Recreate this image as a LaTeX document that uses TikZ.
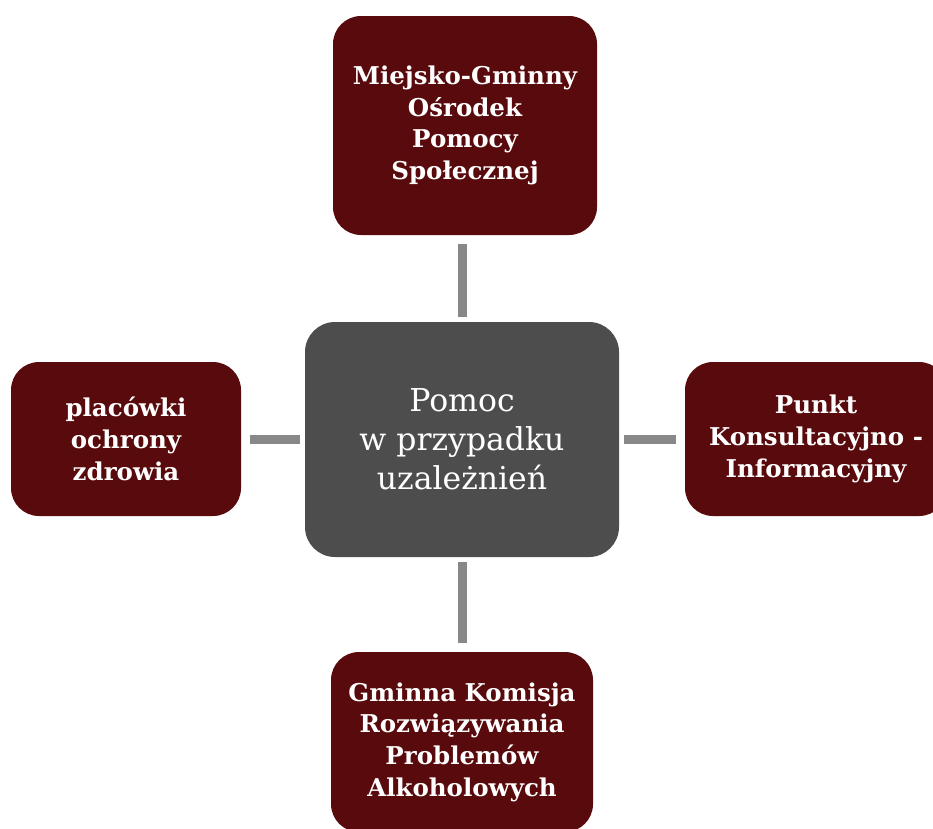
\documentclass[tikz,border=0pt]{standalone}
\usepackage{fontspec}
\setmainfont{DejaVu Serif}
\usepackage{tikz}
\usetikzlibrary{calc}
\definecolor{box-red}{RGB}{89,10,12}
\definecolor{box-grey}{RGB}{77,77,77}
\definecolor{link-grey}{RGB}{136,136,136}
\tikzset{
    side/.style = {
        fill=box-red, text=white, rounded corners=28pt, align=center,
        inner sep=0pt, font=\fontsize{24.5}{31.7}\selectfont\bfseries
    },
    hub/.style = {
        fill=box-grey, text=white, rounded corners=30pt, align=center,
        inner sep=0pt, minimum width=314pt, minimum height=235pt,
        font=\fontsize{31.5}{39}\selectfont
    },
    link/.style = {
        draw=link-grey, line width=9pt, shorten <=4.5pt, shorten >=9pt
    },
}

\begin{document}
\begin{tikzpicture}[x=1pt,y=-1pt]
\useasboundingbox (0,0) rectangle (933,828);
\clip (0,0) rectangle (933,828);

\node(centre)[hub] at (462,439.5) {Pomoc\\w przypadku\\uzależnień};

\node(mgops)[side, minimum width=264pt, minimum height=219pt] at (465,125.5)
    {Miejsko-Gminny\\Ośrodek\\Pomocy\\Społecznej};
\node(zdrowie)[side, minimum width=230pt, minimum height=154pt] at (126,439)
    {placówki\\ochrony\\zdrowia};
\node(punkt)[side, minimum width=262pt, minimum height=154pt] at (816,439)
    {Punkt\\Konsultacyjno -\\Informacyjny};
\node(gkrpa)[side, minimum width=262pt, minimum height=180pt] at (462,742)
    {Gminna Komisja\\Rozwiązywania\\Problemów\\Alkoholowych};

\draw[link] (centre.north) -- (centre.north |- mgops.south);
\draw[link] (centre.west) -- (centre.west -| zdrowie.east);
\draw[link] (centre.east) -- (centre.east -| punkt.west);
\draw[link] (centre.south) -- (centre.south |- gkrpa.north);

\end{tikzpicture}
\end{document}
